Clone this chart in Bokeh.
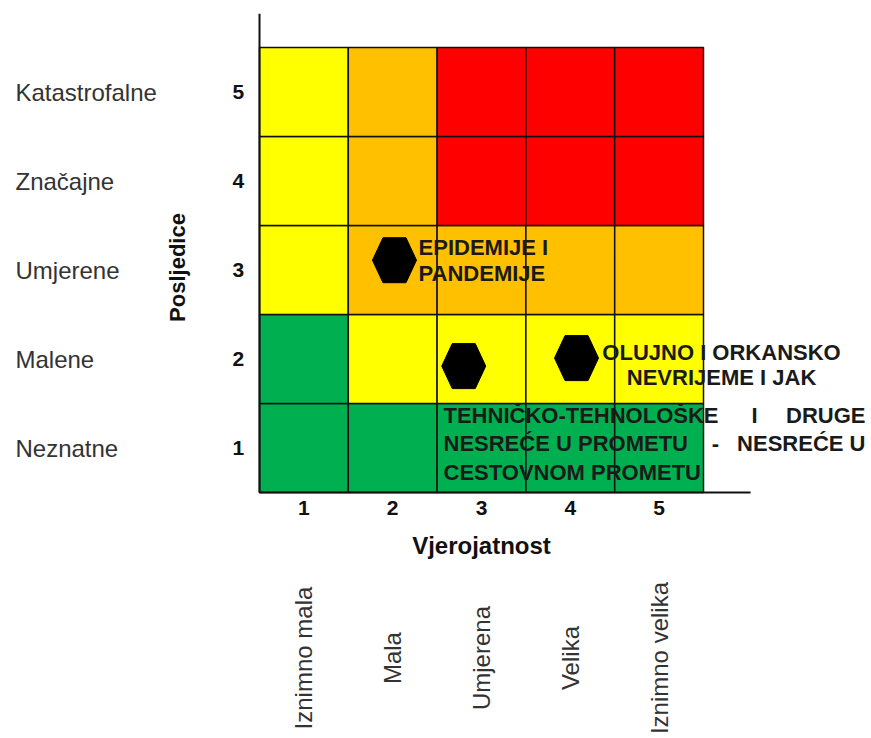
from bokeh.plotting import figure
from bokeh.models import Range1d, ColumnDataSource
from bokeh.embed import file_html
from bokeh.resources import INLINE
from bokeh.core.properties import value

# ---------------- data ----------------
levels = [1, 2, 3, 4, 5]
likelihood_labels = ["Iznimno mala", "Mala", "Umjerena", "Velika", "Iznimno velika"]
consequence_labels = ["Neznatne", "Malene", "Umjerene", "Značajne", "Katastrofalne"]
likelihood_title = "Vjerojatnost"
consequence_title = "Posljedice"

# risk class per cell: rows = consequence 1..5 (bottom to top), columns = likelihood 1..5
risk_rows = [
    ["nizak", "nizak", "nizak", "nizak", "nizak"],
    ["nizak", "umjeren", "umjeren", "umjeren", "umjeren"],
    ["umjeren", "visok", "visok", "visok", "visok"],
    ["umjeren", "visok", "vrlo visok", "vrlo visok", "vrlo visok"],
    ["umjeren", "visok", "vrlo visok", "vrlo visok", "vrlo visok"],
]
risk_colors = {"nizak": "#00B050", "umjeren": "#FFFF00", "visok": "#FFC000", "vrlo visok": "#FF0000"}

hazard_names = ["Epidemije i pandemije", "Tehničko-tehnološke nesreće u prometu", "Olujno i orkansko nevrijeme"]
hazard_likelihood = [2.02, 2.80, 4.07]
hazard_consequence = [3.11, 1.92, 2.01]

# ---------------- figure ----------------
PXX, PXY = 88.8, 89.0
W, H = 868, 736
x0 = 0.5 - 259 / PXX
y1 = 0.5 + 492 / PXY
p = figure(width=W, height=H, output_backend="svg", toolbar_location=None,
           x_range=Range1d(x0, x0 + W / PXX), y_range=Range1d(y1 - H / PXY, y1),
           x_axis_type=None, y_axis_type=None, min_border=0)
p.grid.visible = False
p.outline_line_color = None
p.background_fill_color = "white"
p.border_fill_color = "white"

# cells
cx, cy, cc = [], [], []
for i, row in enumerate(risk_rows):
    for j, r in enumerate(row):
        cx.append(levels[j]); cy.append(levels[i]); cc.append(risk_colors[r])
p.rect(x="x", y="y", width=1, height=1, fill_color="c", line_color="#111111", line_width=1.5,
       source=ColumnDataSource(dict(x=cx, y=cy, c=cc)))

# axis lines
p.segment(x0=[0.5, 0.5], y0=[0.5, 0.5], x1=[0.5, 6.03], y1=[5.88, 0.5], line_color="#111111", line_width=2)

# hexagon markers
hw, fw, hh = 22 / PXX, 11.5 / PXX, 22.5 / PXY
xs, ys = [], []
for hx, hy in zip(hazard_likelihood, hazard_consequence):
    xs.append([hx - hw, hx - fw, hx + fw, hx + hw, hx + fw, hx - fw])
    ys.append([hy, hy + hh, hy + hh, hy, hy - hh, hy - hh])
p.patches(xs=xs, ys=ys, fill_color="black", line_color="black", line_width=1)

FONT = value("Liberation Sans")

def txt(x, y, t, size, bold=False, align="left", color="#111111", angle=0.0):
    p.text(x=x, y=y, text=t, text_font=FONT, text_font_size=size,
           text_font_style="bold" if bold else "normal", text_align=align,
           text_baseline="middle", text_color=color, angle=angle)

# left labels and numbers
txt([-2.248] * 5, levels, consequence_labels, "24px", color="#333333")
txt([0.263] * 5, levels, [str(v) for v in levels], "21px", bold=True, align="center")
txt([-0.423], [3.028], [consequence_title], "22px", bold=True, align="center", angle=1.5708)

# bottom numbers and labels
txt(levels, [0.331] * 5, [str(v) for v in levels], "21px", bold=True, align="center")
txt([3.0], [-0.096], [likelihood_title], "24px", bold=True, align="center")
txt(levels, [-1.36] * 5, likelihood_labels, "24px", align="center", color="#333333", angle=1.5708)

# hazard annotations
ac = "#1a1a1a"
txt([2.291, 2.291], [3.253, 2.961], ["EPIDEMIJE I", "PANDEMIJE"], "22px", bold=True, color=ac)
txt([5.703, 5.703], [2.073, 1.792], ["OLUJNO I ORKANSKO", "NEVRIJEME I JAK"], "22px", bold=True,
    align="center", color=ac)
txt([2.572, 2.572, 2.572], [1.365, 1.051, 0.725],
    ["TEHNIČKO-TEHNOLOŠKE", "NESREĆE U PROMETU", "CESTOVNOM PROMETU"], "22px", bold=True, color=ac)
txt([6.074, 5.635], [1.365, 1.051], ["I", "-"], "22px", bold=True, align="center", color=ac)
txt([7.324, 7.324], [1.365, 1.051], ["DRUGE", "NESREĆE U"], "22px", bold=True, align="right", color=ac)

open("out.html", "w").write(file_html(p, INLINE))
